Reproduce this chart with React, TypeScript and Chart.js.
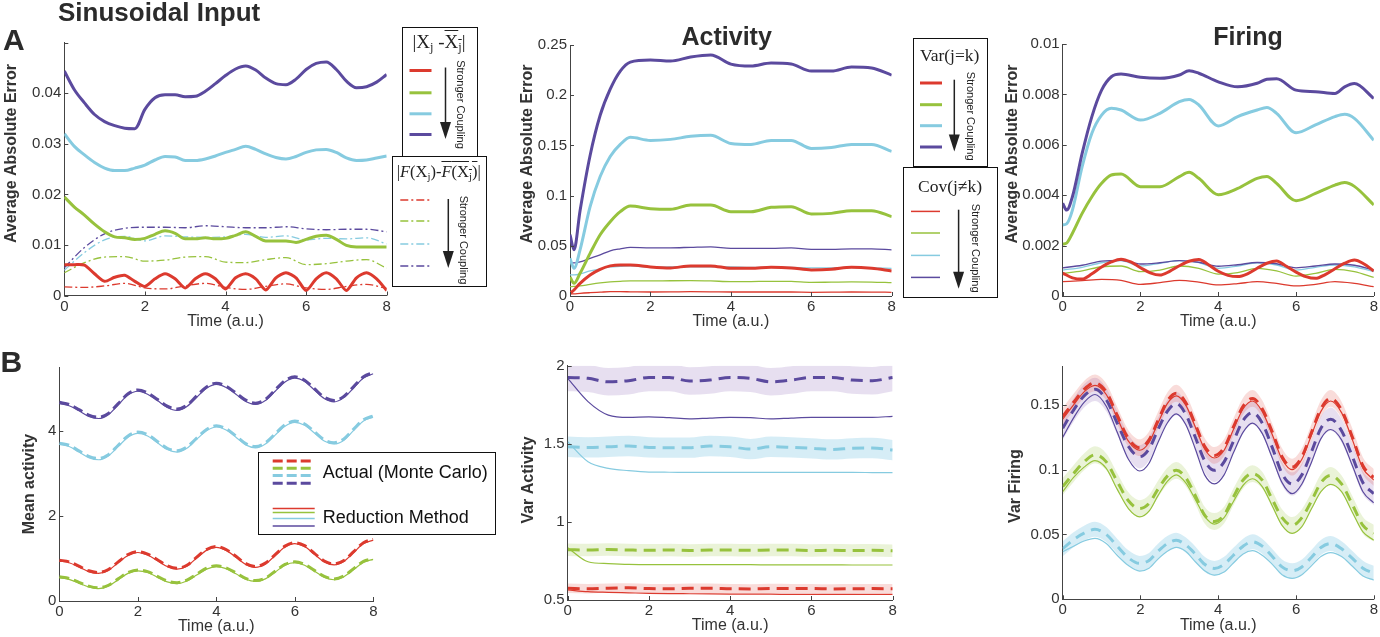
import React, { useEffect, useRef } from 'react';
import { Chart, registerables } from 'chart.js';

Chart.register(...registerables);

const SANS = '"Liberation Sans", Arial, Helvetica, sans-serif';
const SERIF = '"Liberation Serif", "Times New Roman", serif';

const RED = '#dc3a2e';
const GREEN = '#97c23d';
const CYAN = '#86cbe0';
const PURPLE = '#5b4a9e';
const INK = '#333333';

const RED_BAND = 'rgba(221,60,50,0.18)';
const GREEN_BAND = 'rgba(150,196,60,0.2)';
const CYAN_BAND = 'rgba(120,195,225,0.3)';
const PURPLE_BAND = 'rgba(120,80,170,0.18)';

// ---------- time axes ----------
const tQuarter = [0, 0.25, 0.5, 0.75, 1, 1.25, 1.5, 1.75, 2, 2.25, 2.5, 2.75, 3, 3.25, 3.5, 3.75, 4, 4.25, 4.5, 4.75, 5, 5.25, 5.5, 5.75, 6, 6.25, 6.5, 6.75, 7, 7.25, 7.5, 7.75, 8];
const tHalf = [0, 0.5, 1, 1.5, 2, 2.5, 3, 3.5, 4, 4.5, 5, 5.5, 6, 6.5, 7, 7.5, 8];
const tActivity = [0, 0.1, 0.25, 0.5, 0.75, 1, 1.25, 1.5, 2, 2.5, 3, 3.5, 4, 4.5, 5, 5.5, 6, 6.5, 7, 7.5, 8];
const tFiring = [0, 0.1, 0.25, 0.5, 0.75, 1, 1.25, 1.5, 2, 2.5, 3, 3.25, 3.5, 4, 4.5, 5, 5.25, 5.5, 6, 6.5, 7, 7.25, 7.5, 8];
const tVarFiring = [0, 0.28, 0.55, 0.83, 1.12, 1.4, 1.69, 1.98, 2.22, 2.45, 2.69, 2.92, 3.16, 3.41, 3.65, 3.9, 4.15, 4.39, 4.64, 4.88, 5.13, 5.39, 5.64, 5.9, 6.15, 6.4, 6.64, 6.89, 7.17, 7.45, 7.72, 8];

const xTickValues = [0, 2, 4, 6, 8];
const xTickLabels = ['0', '2', '4', '6', '8'];

// ---------- A1: Sinusoidal input, |Xj - mean Xj| (solid) and |F(Xj) - mean F| (dash-dot) ----------
const a1Red = [0.0061, 0.0061, 0.0060, 0.0043, 0.0028, 0.0036, 0.0040, 0.0028, 0.0018, 0.0033, 0.0043, 0.0033, 0.0015, 0.0033, 0.0043, 0.0033, 0.0013, 0.0035, 0.0043, 0.0033, 0.0011, 0.0035, 0.0045, 0.0035, 0.0010, 0.0033, 0.0045, 0.0033, 0.0010, 0.0035, 0.0045, 0.0033, 0.0010];
const a1Green = [0.0195, 0.0175, 0.0159, 0.0141, 0.0126, 0.0116, 0.0114, 0.0111, 0.0113, 0.0121, 0.0128, 0.0123, 0.0112, 0.0112, 0.0114, 0.0112, 0.0113, 0.0119, 0.0126, 0.0117, 0.0108, 0.0108, 0.0108, 0.0105, 0.0111, 0.0117, 0.0119, 0.0111, 0.0099, 0.0096, 0.0096, 0.0096, 0.0096];
const a1Cyan = [0.0320, 0.0295, 0.0278, 0.0263, 0.0252, 0.0247, 0.0247, 0.0252, 0.0258, 0.0268, 0.0275, 0.0274, 0.0267, 0.0267, 0.0270, 0.0276, 0.0283, 0.0289, 0.0295, 0.0289, 0.0280, 0.0273, 0.0270, 0.0275, 0.0283, 0.0288, 0.0289, 0.0283, 0.0272, 0.0267, 0.0268, 0.0272, 0.0276];
const a1Purple = [0.0444, 0.0407, 0.0381, 0.0358, 0.0344, 0.0336, 0.0331, 0.0330, 0.0368, 0.0391, 0.0397, 0.0397, 0.0393, 0.0394, 0.0404, 0.0419, 0.0435, 0.0448, 0.0454, 0.0446, 0.0430, 0.0419, 0.0417, 0.0428, 0.0447, 0.0459, 0.0462, 0.0447, 0.0424, 0.0411, 0.0413, 0.0422, 0.0437];
const a1RedF = [0.0017, 0.0016, 0.0019, 0.0024, 0.0015, 0.0013, 0.0019, 0.0024, 0.0016, 0.0012, 0.0018, 0.0023, 0.0015, 0.0012, 0.0018, 0.0022, 0.0014];
const a1GreenF = [0.0045, 0.0065, 0.0076, 0.0077, 0.0068, 0.0070, 0.0076, 0.0077, 0.0066, 0.0065, 0.0071, 0.0075, 0.0061, 0.0063, 0.0068, 0.0071, 0.0054];
const a1CyanF = [0.0050, 0.0085, 0.0110, 0.0117, 0.0108, 0.0118, 0.0116, 0.0115, 0.0116, 0.0121, 0.0115, 0.0118, 0.0110, 0.0113, 0.0112, 0.0114, 0.0102];
const a1PurpleF = [0.0055, 0.0095, 0.0122, 0.0133, 0.0135, 0.0135, 0.0134, 0.0138, 0.0136, 0.0134, 0.0134, 0.0136, 0.0132, 0.0130, 0.0131, 0.0131, 0.0126];
const a1YTicks = [0, 0.01, 0.02, 0.03, 0.04, 0.05];
const a1YLabels = ['0', '0.01', '0.02', '0.03', '0.04', ''];

// ---------- A2: Activity, Var (thick) and Cov (thin) ----------
const a2Red = [0.0027, 0.006, 0.0126, 0.021, 0.0266, 0.030, 0.031, 0.031, 0.029, 0.028, 0.030, 0.030, 0.0276, 0.0276, 0.0286, 0.028, 0.026, 0.0266, 0.0286, 0.0276, 0.025];
const a2Green = [0.019, 0.0126, 0.0226, 0.0425, 0.061, 0.074, 0.084, 0.0896, 0.087, 0.0863, 0.0906, 0.0906, 0.084, 0.084, 0.0883, 0.089, 0.0817, 0.0823, 0.085, 0.085, 0.079];
const a2Cyan = [0.0375, 0.0276, 0.046, 0.089, 0.119, 0.139, 0.151, 0.158, 0.155, 0.156, 0.159, 0.160, 0.152, 0.151, 0.155, 0.155, 0.147, 0.148, 0.151, 0.151, 0.144];
const a2Purple = [0.061, 0.046, 0.085, 0.140, 0.180, 0.206, 0.224, 0.233, 0.235, 0.234, 0.238, 0.240, 0.231, 0.229, 0.232, 0.231, 0.224, 0.224, 0.228, 0.227, 0.220];
const a2RedC = [0.002, 0.0022, 0.0027, 0.0033, 0.0038, 0.0043, 0.0043, 0.0042, 0.004, 0.0041, 0.0043, 0.0042, 0.004, 0.004, 0.004, 0.004, 0.0037, 0.0038, 0.004, 0.0039, 0.0037];
const a2GreenC = [0.0093, 0.0095, 0.010, 0.0116, 0.013, 0.014, 0.0146, 0.015, 0.015, 0.0152, 0.0153, 0.015, 0.0143, 0.0144, 0.0146, 0.0145, 0.0136, 0.0138, 0.014, 0.0139, 0.0133];
const a2CyanC = [0.021, 0.021, 0.022, 0.025, 0.027, 0.029, 0.0295, 0.030, 0.0286, 0.029, 0.029, 0.029, 0.029, 0.0285, 0.0286, 0.0285, 0.028, 0.028, 0.0286, 0.028, 0.0276];
const a2PurpleC = [0.034, 0.033, 0.034, 0.0375, 0.041, 0.045, 0.047, 0.0485, 0.048, 0.048, 0.0485, 0.049, 0.0475, 0.0475, 0.0475, 0.048, 0.0465, 0.0465, 0.047, 0.047, 0.046];
const a2YTicks = [0, 0.05, 0.1, 0.15, 0.2, 0.25];
const a2YLabels = ['0', '0.05', '0.1', '0.15', '0.2', '0.25'];

// ---------- A3: Firing ----------
const a3Red = [0.00091, 0.00072, 0.00067, 0.00088, 0.00115, 0.00135, 0.00146, 0.00135, 0.00112, 0.00092, 0.00083, 0.00098, 0.0012, 0.00138, 0.00145, 0.00124, 0.00098, 0.00082, 0.00077, 0.00088, 0.0011, 0.0013, 0.00139, 0.00118, 0.00095, 0.00077, 0.0007, 0.00085, 0.00108, 0.0013, 0.00143, 0.00127, 0.00099];
const a3Green = [0.00206, 0.0021, 0.00249, 0.00328, 0.00394, 0.00447, 0.0048, 0.00484, 0.00434, 0.00434, 0.00474, 0.00491, 0.00467, 0.00402, 0.00427, 0.00467, 0.00474, 0.00447, 0.00378, 0.00407, 0.0044, 0.0045, 0.00435, 0.00361];
const a3Cyan = [0.00282, 0.00286, 0.00341, 0.00513, 0.00646, 0.00718, 0.00745, 0.00738, 0.00698, 0.00725, 0.00771, 0.0078, 0.00758, 0.00675, 0.00712, 0.00738, 0.00748, 0.00725, 0.00648, 0.00679, 0.00712, 0.00721, 0.00705, 0.00618];
const a3Purple = [0.00368, 0.00341, 0.00394, 0.00566, 0.00712, 0.00817, 0.0087, 0.00881, 0.00868, 0.00864, 0.00877, 0.00894, 0.00884, 0.0085, 0.0083, 0.00844, 0.0086, 0.00862, 0.00817, 0.00811, 0.00804, 0.0083, 0.00843, 0.00784];
const a3RedC = [0.00057, 0.00061, 0.00066, 0.00062, 0.00046, 0.00053, 0.00062, 0.00055, 0.00044, 0.00049, 0.00057, 0.0005, 0.0004, 0.00046, 0.00057, 0.0005, 0.00037];
const a3GreenC = [0.0009, 0.001, 0.00116, 0.00119, 0.00097, 0.00103, 0.00119, 0.0011, 0.00087, 0.00093, 0.0011, 0.001, 0.00079, 0.0009, 0.00106, 0.00097, 0.00074];
const a3CyanC = [0.00103, 0.00114, 0.00132, 0.0014, 0.00119, 0.0013, 0.0014, 0.00132, 0.0011, 0.00119, 0.00132, 0.00123, 0.00103, 0.00114, 0.00123, 0.00116, 0.00097];
const a3PurpleC = [0.00112, 0.00122, 0.00138, 0.00141, 0.00127, 0.00132, 0.0014, 0.00134, 0.00118, 0.00124, 0.00133, 0.00128, 0.00112, 0.00119, 0.00127, 0.00122, 0.00103];
const a3YTicks = [0, 0.002, 0.004, 0.006, 0.008, 0.01];
const a3YLabels = ['0', '0.002', '0.004', '0.006', '0.008', '0.01'];

// ---------- B1: Mean activity (actual dashed, reduction solid) ----------
const b1Red = [0.96, 0.92, 0.82, 0.71, 0.67, 0.74, 0.92, 1.09, 1.16, 1.10, 0.97, 0.83, 0.77, 0.84, 1.03, 1.21, 1.28, 1.21, 1.05, 0.88, 0.81, 0.89, 1.09, 1.29, 1.37, 1.30, 1.12, 0.94, 0.87, 0.95, 1.16, 1.37, 1.45];
const b1Green = [0.57, 0.53, 0.44, 0.35, 0.31, 0.37, 0.52, 0.67, 0.73, 0.69, 0.58, 0.47, 0.43, 0.49, 0.63, 0.77, 0.83, 0.78, 0.66, 0.53, 0.48, 0.54, 0.70, 0.86, 0.92, 0.86, 0.72, 0.58, 0.52, 0.59, 0.76, 0.93, 1.00];
const b1Cyan = [3.71, 3.66, 3.53, 3.40, 3.35, 3.44, 3.66, 3.88, 3.97, 3.91, 3.75, 3.59, 3.53, 3.62, 3.83, 4.03, 4.12, 4.05, 3.88, 3.70, 3.63, 3.72, 3.93, 4.14, 4.23, 4.16, 3.98, 3.79, 3.72, 3.81, 4.04, 4.26, 4.35];
const b1Purple = [4.67, 4.62, 4.50, 4.37, 4.32, 4.41, 4.64, 4.87, 4.96, 4.89, 4.74, 4.58, 4.51, 4.60, 4.82, 5.03, 5.12, 5.05, 4.89, 4.72, 4.65, 4.74, 4.96, 5.18, 5.27, 5.19, 4.99, 4.79, 4.71, 4.81, 5.04, 5.27, 5.37];
const b1RedR = [0.94, 0.90, 0.80, 0.69, 0.65, 0.72, 0.90, 1.07, 1.14, 1.08, 0.95, 0.81, 0.75, 0.82, 1.01, 1.19, 1.26, 1.19, 1.03, 0.86, 0.79, 0.87, 1.07, 1.27, 1.35, 1.28, 1.10, 0.92, 0.85, 0.93, 1.14, 1.35, 1.43];
const b1GreenR = [0.55, 0.51, 0.42, 0.33, 0.29, 0.35, 0.50, 0.65, 0.71, 0.67, 0.56, 0.45, 0.41, 0.47, 0.61, 0.75, 0.81, 0.76, 0.64, 0.51, 0.46, 0.52, 0.68, 0.84, 0.90, 0.84, 0.70, 0.56, 0.50, 0.57, 0.74, 0.91, 0.98];
const b1CyanR = [3.68, 3.63, 3.50, 3.37, 3.32, 3.41, 3.63, 3.85, 3.94, 3.88, 3.72, 3.56, 3.50, 3.59, 3.80, 4.00, 4.09, 4.02, 3.85, 3.67, 3.60, 3.69, 3.90, 4.11, 4.20, 4.13, 3.95, 3.76, 3.69, 3.78, 4.01, 4.23, 4.32];
const b1PurpleR = [4.64, 4.59, 4.47, 4.34, 4.29, 4.38, 4.61, 4.84, 4.93, 4.86, 4.71, 4.55, 4.48, 4.57, 4.79, 5.00, 5.09, 5.02, 4.86, 4.69, 4.62, 4.71, 4.93, 5.15, 5.24, 5.16, 4.96, 4.76, 4.68, 4.78, 5.01, 5.24, 5.34];
const b1YTicks = [0, 2, 4];
const b1YLabels = ['0', '2', '4'];

// ---------- B2: Var activity ----------
const b2Red = [0.575, 0.572, 0.576, 0.578, 0.573, 0.572, 0.575, 0.575, 0.572, 0.571, 0.574, 0.573, 0.573, 0.571, 0.572, 0.573, 0.572];
const b2Green = [0.822, 0.82, 0.823, 0.82, 0.818, 0.82, 0.817, 0.82, 0.82, 0.818, 0.82, 0.82, 0.817, 0.818, 0.817, 0.818, 0.815];
const b2Cyan = [1.481, 1.477, 1.481, 1.486, 1.477, 1.475, 1.475, 1.486, 1.481, 1.466, 1.481, 1.477, 1.471, 1.464, 1.471, 1.473, 1.46];
const b2Purple = [1.925, 1.919, 1.897, 1.904, 1.925, 1.925, 1.902, 1.908, 1.925, 1.919, 1.897, 1.908, 1.925, 1.925, 1.908, 1.904, 1.925];
const b2RedR = [0.564, 0.553, 0.549, 0.546, 0.543, 0.541, 0.540, 0.539, 0.538, 0.537, 0.537, 0.536, 0.536, 0.536, 0.536, 0.536, 0.536];
const b2GreenR = [0.835, 0.745, 0.733, 0.728, 0.726, 0.726, 0.726, 0.726, 0.726, 0.726, 0.725, 0.725, 0.725, 0.725, 0.724, 0.724, 0.724];
const b2CyanR = [1.513, 1.385, 1.343, 1.328, 1.319, 1.318, 1.317, 1.317, 1.317, 1.317, 1.317, 1.317, 1.317, 1.317, 1.317, 1.316, 1.315];
const b2PurpleR = [1.919, 1.77, 1.684, 1.669, 1.673, 1.667, 1.660, 1.665, 1.669, 1.667, 1.660, 1.665, 1.669, 1.669, 1.669, 1.669, 1.676];
// half-width of the shaded spread (red, green, cyan, purple)
const b2Spread = [0.03, 0.04, 0.065, 0.088];
const b2YTicks = [0.5, 1, 1.5, 2];
const b2YLabels = ['0.5', '1', '1.5', '2'];

// ---------- B3: Var firing ----------
const b3Red = [0.141, 0.152, 0.162, 0.167, 0.160, 0.142, 0.124, 0.117, 0.123, 0.138, 0.153, 0.159, 0.152, 0.135, 0.118, 0.111, 0.117, 0.133, 0.149, 0.155, 0.147, 0.129, 0.110, 0.102, 0.110, 0.129, 0.147, 0.155, 0.146, 0.125, 0.103, 0.094];
const b3Green = [0.087, 0.097, 0.106, 0.1115, 0.106, 0.091, 0.076, 0.070, 0.074, 0.085, 0.095, 0.0995, 0.094, 0.080, 0.065, 0.060, 0.065, 0.079, 0.092, 0.097, 0.092, 0.077, 0.063, 0.057, 0.063, 0.076, 0.090, 0.0956, 0.089, 0.073, 0.057, 0.051];
const b3Cyan = [0.039, 0.046, 0.051, 0.054, 0.050, 0.041, 0.032, 0.0277, 0.030, 0.037, 0.043, 0.0456, 0.042, 0.035, 0.027, 0.0238, 0.027, 0.034, 0.041, 0.0444, 0.041, 0.033, 0.025, 0.022, 0.025, 0.0325, 0.040, 0.043, 0.039, 0.0315, 0.024, 0.020];
const b3Purple = [0.132, 0.146, 0.157, 0.162, 0.154, 0.136, 0.118, 0.110, 0.116, 0.131, 0.145, 0.151, 0.143, 0.125, 0.107, 0.0995, 0.106, 0.122, 0.138, 0.144, 0.136, 0.117, 0.097, 0.089, 0.096, 0.114, 0.132, 0.139, 0.130, 0.110, 0.090, 0.0815];
const b3RedR = [0.139, 0.150, 0.160, 0.165, 0.158, 0.140, 0.122, 0.115, 0.121, 0.136, 0.151, 0.157, 0.150, 0.133, 0.116, 0.109, 0.115, 0.131, 0.147, 0.153, 0.145, 0.127, 0.108, 0.100, 0.108, 0.127, 0.145, 0.153, 0.144, 0.123, 0.101, 0.092];
const b3GreenR = [0.083, 0.094, 0.102, 0.107, 0.101, 0.085, 0.070, 0.0636, 0.068, 0.080, 0.091, 0.096, 0.090, 0.077, 0.064, 0.058, 0.063, 0.0755, 0.088, 0.093, 0.087, 0.072, 0.057, 0.0508, 0.056, 0.070, 0.083, 0.0887, 0.083, 0.067, 0.052, 0.0456];
const b3CyanR = [0.0367, 0.041, 0.045, 0.047, 0.043, 0.034, 0.026, 0.0218, 0.024, 0.031, 0.037, 0.040, 0.037, 0.029, 0.022, 0.0187, 0.021, 0.028, 0.035, 0.0375, 0.034, 0.027, 0.019, 0.0162, 0.019, 0.026, 0.033, 0.036, 0.033, 0.0255, 0.018, 0.0149];
const b3PurpleR = [0.125, 0.140, 0.152, 0.158, 0.149, 0.129, 0.108, 0.099, 0.105, 0.121, 0.136, 0.143, 0.135, 0.116, 0.096, 0.089, 0.096, 0.113, 0.129, 0.136, 0.128, 0.109, 0.090, 0.0815, 0.089, 0.106, 0.124, 0.131, 0.123, 0.103, 0.083, 0.0744];
const b3Spread = [0.0065, 0.0065, 0.0058, 0.009];
const b3YTicks = [0, 0.05, 0.1, 0.15];
const b3YLabels = ['0', '0.05', '0.1', '0.15'];

// ---------- helpers ----------
const pts = (t: number[], v: number[]) => t.map((x, i) => ({ x, y: v[i] }));
const shift = (v: number[], d: number) => v.map((y) => y + d);

// tension === undefined -> monotone cubic; otherwise bezier spline with given tension
function line(t: number[], v: number[], color: string, width: number, dash: number[] = [], order = 1, tension?: number) {
  return {
    data: pts(t, v),
    borderColor: color,
    backgroundColor: color,
    borderWidth: width,
    borderDash: dash,
    pointRadius: 0,
    fill: false,
    cubicInterpolationMode: tension === undefined ? 'monotone' : 'default',
    tension: tension === undefined ? 0 : tension,
    order,
  };
}

function band(t: number[], mid: number[], half: number, color: string) {
  const common = {
    borderColor: 'rgba(0,0,0,0)',
    borderWidth: 0,
    pointRadius: 0,
    cubicInterpolationMode: 'monotone',
    order: 5,
  };
  return [
    { ...common, data: pts(t, shift(mid, -half)), backgroundColor: 'rgba(0,0,0,0)', fill: false },
    { ...common, data: pts(t, shift(mid, half)), backgroundColor: color, fill: '-1' },
  ];
}

type TextItem = { text: string; x: number; y: number; font: string; color: string; rot?: number; align?: CanvasTextAlign; baseline?: CanvasTextBaseline };

function textPlugin(items: TextItem[]) {
  return {
    id: 'panelText',
    afterDraw(chart: any) {
      const ctx = chart.ctx as CanvasRenderingContext2D;
      items.forEach((it) => {
        ctx.save();
        ctx.translate(it.x, it.y);
        if (it.rot) ctx.rotate(it.rot);
        ctx.font = it.font;
        ctx.fillStyle = it.color;
        ctx.textAlign = it.align || 'center';
        ctx.textBaseline = it.baseline || 'middle';
        ctx.fillText(it.text, 0, 0);
        ctx.restore();
      });
    },
  };
}

const innerTicks = {
  id: 'innerTicks',
  afterDraw(chart: any) {
    const { ctx, chartArea: a, scales } = chart;
    const x = scales.x;
    const y = scales.y;
    ctx.save();
    ctx.strokeStyle = '#444';
    ctx.lineWidth = 1;
    ctx.beginPath();
    x.ticks.forEach((t: any) => {
      const px = Math.round(x.getPixelForValue(t.value)) + 0.5;
      ctx.moveTo(px, a.bottom);
      ctx.lineTo(px, a.bottom - 4);
    });
    y.ticks.forEach((t: any) => {
      const py = Math.round(y.getPixelForValue(t.value)) + 0.5;
      ctx.moveTo(a.left, py);
      ctx.lineTo(a.left + 4, py);
    });
    ctx.stroke();
    ctx.restore();
  },
};

interface PanelSpec {
  box: { x: number; y: number; w: number; h: number };
  area: { l: number; t: number; r: number; b: number };
  yMin: number;
  yMax: number;
  yTicks: number[];
  yLabels: string[];
  yTitle: string;
  yTitlePos: [number, number];
  title?: string;
  titlePos?: [number, number];
  datasets: () => any[];
}

function ChartPanel({ spec }: { spec: PanelSpec }) {
  const ref = useRef<HTMLCanvasElement | null>(null);
  useEffect(() => {
    const { box, area } = spec;
    const yW = area.l - box.x;
    const xH = box.y + box.h - area.b;
    const padTop = area.t - box.y;
    const padRight = box.x + box.w - area.r;
    const texts: TextItem[] = [
      { text: spec.yTitle, x: spec.yTitlePos[0] - box.x, y: spec.yTitlePos[1] - box.y, font: `bold 16px ${SANS}`, color: INK, rot: -Math.PI / 2 },
    ];
    if (spec.title && spec.titlePos) {
      texts.push({ text: spec.title, x: spec.titlePos[0] - box.x, y: spec.titlePos[1] - box.y, font: `bold 25px ${SANS}`, color: '#2b2b2b', baseline: 'alphabetic' });
    }
    const tickFont = { family: SANS, size: 15 };
    const chart = new Chart(ref.current as HTMLCanvasElement, {
      type: 'line',
      data: { datasets: spec.datasets() },
      options: {
        animation: false,
        responsive: false,
        events: [],
        layout: { padding: { top: padTop, right: padRight, left: 0, bottom: 0 } },
        plugins: { legend: { display: false }, tooltip: { enabled: false } },
        elements: { point: { radius: 0 } },
        scales: {
          x: {
            type: 'linear',
            min: 0,
            max: 8,
            afterFit: (s: any) => { s.height = xH; },
            afterBuildTicks: (s: any) => { s.ticks = xTickValues.map((v) => ({ value: v })); },
            ticks: { callback: (_v: any, i: number) => xTickLabels[i], font: tickFont, color: INK, padding: 2, maxRotation: 0, autoSkip: false },
            grid: { display: false, drawTicks: false },
            border: { display: true, color: '#444', width: 1 },
            title: { display: true, text: 'Time (a.u.)', font: { family: SANS, size: 16 }, color: INK, padding: 0 },
          },
          y: {
            type: 'linear',
            min: spec.yMin,
            max: spec.yMax,
            afterFit: (s: any) => { s.width = yW; },
            afterBuildTicks: (s: any) => { s.ticks = spec.yTicks.map((v) => ({ value: v })); },
            ticks: { callback: (_v: any, i: number) => spec.yLabels[i], font: tickFont, color: INK, padding: 3, autoSkip: false },
            grid: { display: false, drawTicks: false },
            border: { display: true, color: '#444', width: 1 },
          },
        },
      } as any,
      plugins: [textPlugin(texts), innerTicks],
    } as any);
    return () => chart.destroy();
  }, [spec]);
  return (
    <canvas
      ref={ref}
      width={spec.box.w}
      height={spec.box.h}
      style={{ position: 'absolute', left: spec.box.x, top: spec.box.y, width: spec.box.w, height: spec.box.h }}
    />
  );
}

const DD = [8, 3, 2, 3];

const panels: PanelSpec[] = [
  {
    box: { x: 0, y: 30, w: 396, h: 301 },
    area: { l: 64.3, t: 42.7, r: 386.7, b: 295.5 },
    yMin: 0, yMax: 0.05, yTicks: a1YTicks, yLabels: a1YLabels,
    yTitle: 'Average Absolute Error', yTitlePos: [11.5, 153.5],
    datasets: () => [
      line(tQuarter, a1Purple, PURPLE, 3, [], 1),
      line(tQuarter, a1Cyan, CYAN, 3, [], 1),
      line(tQuarter, a1Green, GREEN, 3, [], 1),
      line(tQuarter, a1Red, RED, 3, [], 1, 0.25),
      line(tHalf, a1PurpleF, PURPLE, 1.3, DD, 2),
      line(tHalf, a1CyanF, CYAN, 1.3, DD, 2),
      line(tHalf, a1GreenF, GREEN, 1.3, DD, 2),
      line(tHalf, a1RedF, RED, 1.3, DD, 2),
    ],
  },
  {
    box: { x: 510, y: 20, w: 391, h: 311 },
    area: { l: 570, t: 45, r: 891.7, b: 296 },
    yMin: 0, yMax: 0.25, yTicks: a2YTicks, yLabels: a2YLabels,
    yTitle: 'Average Absolute Error', yTitlePos: [527.5, 154],
    title: 'Activity', titlePos: [726.7, 44.5],
    datasets: () => [
      line(tActivity, a2Purple, PURPLE, 3, [], 1),
      line(tActivity, a2Cyan, CYAN, 3, [], 1),
      line(tActivity, a2Green, GREEN, 3, [], 1),
      line(tActivity, a2Red, RED, 3, [], 1),
      line(tActivity, a2PurpleC, PURPLE, 1.3, [], 2),
      line(tActivity, a2CyanC, CYAN, 1.3, [], 2),
      line(tActivity, a2GreenC, GREEN, 1.3, [], 2),
      line(tActivity, a2RedC, RED, 1.3, [], 2),
    ],
  },
  {
    box: { x: 1000, y: 20, w: 380, h: 311 },
    area: { l: 1062.7, t: 44, r: 1375.7, b: 296 },
    yMin: 0, yMax: 0.01, yTicks: a3YTicks, yLabels: a3YLabels,
    yTitle: 'Average Absolute Error', yTitlePos: [1012.5, 154],
    title: 'Firing', titlePos: [1248, 44.5],
    datasets: () => [
      line(tFiring, a3Purple, PURPLE, 3, [], 1),
      line(tFiring, a3Cyan, CYAN, 3, [], 1),
      line(tFiring, a3Green, GREEN, 3, [], 1),
      line(tQuarter, a3Red, RED, 3, [], 1),
      line(tHalf, a3PurpleC, PURPLE, 1.3, [], 2),
      line(tHalf, a3CyanC, CYAN, 1.3, [], 2),
      line(tHalf, a3GreenC, GREEN, 1.3, [], 2),
      line(tHalf, a3RedC, RED, 1.3, [], 2),
    ],
  },
  {
    box: { x: 10, y: 352, w: 373, h: 284 },
    area: { l: 59.3, t: 367, r: 373.3, b: 601 },
    yMin: 0, yMax: 5.5, yTicks: b1YTicks, yLabels: b1YLabels,
    yTitle: 'Mean activity', yTitlePos: [29.7, 484],
    datasets: () => [
      line(tQuarter, b1Red, RED, 3, [10, 5], 0),
      line(tQuarter, b1Green, GREEN, 3, [10, 5], 0),
      line(tQuarter, b1Cyan, CYAN, 3, [10, 5], 0),
      line(tQuarter, b1Purple, PURPLE, 3, [10, 5], 0),
      line(tQuarter, b1RedR, RED, 1.2, [], 1),
      line(tQuarter, b1GreenR, GREEN, 1.2, [], 1),
      line(tQuarter, b1CyanR, CYAN, 1.2, [], 1),
      line(tQuarter, b1PurpleR, PURPLE, 1.2, [], 1),
    ],
  },
  {
    box: { x: 510, y: 352, w: 392, h: 283 },
    area: { l: 567.7, t: 365.7, r: 892.7, b: 600 },
    yMin: 0.5, yMax: 2, yTicks: b2YTicks, yLabels: b2YLabels,
    yTitle: 'Var Activity', yTitlePos: [529, 480],
    datasets: () => [
      ...band(tHalf, b2Red, b2Spread[0], RED_BAND),
      ...band(tHalf, b2Green, b2Spread[1], GREEN_BAND),
      ...band(tHalf, b2Cyan, b2Spread[2], CYAN_BAND),
      ...band(tHalf, b2Purple, b2Spread[3], PURPLE_BAND),
      line(tHalf, b2RedR, RED, 1.2, [], 1),
      line(tHalf, b2GreenR, GREEN, 1.2, [], 1),
      line(tHalf, b2CyanR, CYAN, 1.2, [], 1),
      line(tHalf, b2PurpleR, PURPLE, 1.2, [], 1),
      line(tHalf, b2Red, RED, 3, [12, 7], 0),
      line(tHalf, b2Green, GREEN, 3, [12, 7], 0),
      line(tHalf, b2Cyan, CYAN, 3, [12, 7], 0),
      line(tHalf, b2Purple, PURPLE, 3, [12, 7], 0),
    ],
  },
  {
    box: { x: 1000, y: 352, w: 380, h: 283 },
    area: { l: 1062.7, t: 366, r: 1375, b: 599.3 },
    yMin: 0, yMax: 0.18, yTicks: b3YTicks, yLabels: b3YLabels,
    yTitle: 'Var Firing', yTitlePos: [1015.7, 486],
    datasets: () => [
      ...band(tVarFiring, b3Red, b3Spread[0], RED_BAND),
      ...band(tVarFiring, b3Green, b3Spread[1], GREEN_BAND),
      ...band(tVarFiring, b3Cyan, b3Spread[2], CYAN_BAND),
      ...band(tVarFiring, b3Purple, b3Spread[3], PURPLE_BAND),
      line(tVarFiring, b3RedR, RED, 1.2, [], 1),
      line(tVarFiring, b3GreenR, GREEN, 1.2, [], 1),
      line(tVarFiring, b3CyanR, CYAN, 1.2, [], 1),
      line(tVarFiring, b3PurpleR, PURPLE, 1.2, [], 1),
      line(tVarFiring, b3Red, RED, 3, [10, 7], 0),
      line(tVarFiring, b3Green, GREEN, 3, [10, 7], 0),
      line(tVarFiring, b3Cyan, CYAN, 3, [10, 7], 0),
      line(tVarFiring, b3Purple, PURPLE, 3, [10, 7], 0),
    ],
  },
];

// ---------- legends ----------
const legendColors = [RED, GREEN, CYAN, PURPLE];
const subStyle: React.CSSProperties = { fontSize: '0.65em', verticalAlign: '-0.25em', lineHeight: 0 };

function Arrow({ x, y1, y2 }: { x: number; y1: number; y2: number }) {
  return (
    <g>
      <line x1={x} y1={y1} x2={x} y2={y2 - 14} stroke="#222" strokeWidth={1.5} />
      <polygon points={`${x - 5.5},${y2 - 17} ${x + 5.5},${y2 - 17} ${x},${y2}`} fill="#222" />
    </g>
  );
}

function Coupling({ cx, cy }: { cx: number; cy: number }) {
  return (
    <text x={cx} y={cy} transform={`rotate(90 ${cx} ${cy})`} textAnchor="middle" dominantBaseline="central" fontSize={11} fontFamily={SANS} fill="#222">
      Stronger Coupling
    </text>
  );
}

interface LegendBoxProps {
  x: number; y: number; w: number; h: number;
  title: React.ReactNode; titleTop: number; titleSize: number;
  lineX: [number, number]; lineYs: number[]; lineWidth: number; dash?: string;
  arrow: { x: number; y1: number; y2: number };
  text: { cx: number; cy: number };
}

function LegendBox(p: LegendBoxProps) {
  return (
    <div style={{ position: 'absolute', left: p.x, top: p.y, width: p.w, height: p.h, border: '1.5px solid #111', background: '#fff', boxSizing: 'border-box' }}>
      <div style={{ position: 'absolute', left: -1.5, width: p.w, top: p.titleTop, textAlign: 'center', fontFamily: SERIF, fontSize: p.titleSize, color: '#222', whiteSpace: 'nowrap', lineHeight: 1.1 }}>
        {p.title}
      </div>
      <svg width={p.w} height={p.h} style={{ position: 'absolute', left: -1.5, top: -1.5, overflow: 'visible' }}>
        {p.lineYs.map((ly, i) => (
          <line key={i} x1={p.lineX[0]} x2={p.lineX[1]} y1={ly} y2={ly} stroke={legendColors[i]} strokeWidth={p.lineWidth} strokeDasharray={p.dash} />
        ))}
        <Arrow x={p.arrow.x} y1={p.arrow.y1} y2={p.arrow.y2} />
        <Coupling cx={p.text.cx} cy={p.text.cy} />
      </svg>
    </div>
  );
}

function Legends() {
  return (
    <>
      <LegendBox
        x={401.5} y={26.5} w={76} h={130}
        title={<span>|X<sub style={subStyle}>j</sub> -<span style={{ textDecoration: 'overline' }}>X<sub style={subStyle}>j</sub></span>|</span>}
        titleTop={4} titleSize={19}
        lineX={[8.5, 30.5]} lineYs={[44.5, 66.8, 87.8, 108.5]} lineWidth={3}
        arrow={{ x: 44.5, y1: 41.5, y2: 113 }} text={{ cx: 60, cy: 78.5 }}
      />
      <LegendBox
        x={391.7} y={156} w={95} h={131.3}
        title={<span>|<i>F</i>(X<sub style={subStyle}>j</sub>)-<span style={{ textDecoration: 'overline' }}><i>F</i>(X<sub style={subStyle}>j</sub>)</span>|</span>}
        titleTop={6} titleSize={16.5}
        lineX={[9.3, 40.3]} lineYs={[44, 65, 88, 110]} lineWidth={1.5} dash="8 3 2 3"
        arrow={{ x: 57.3, y1: 43, y2: 112 }} text={{ cx: 73.3, cy: 84 }}
      />
      <LegendBox
        x={912.7} y={38.3} w={75} h={129}
        title={<span>Var(j=k)</span>}
        titleTop={7} titleSize={17.5}
        lineX={[8, 30]} lineYs={[45, 66.7, 87.7, 109]} lineWidth={3}
        arrow={{ x: 42.3, y1: 41.7, y2: 113.4 }} text={{ cx: 59, cy: 78.2 }}
      />
      <LegendBox
        x={902.7} y={167.3} w={95.6} h={131}
        title={<span>Cov(j≠k)</span>}
        titleTop={9} titleSize={17.5}
        lineX={[9, 38]} lineYs={[44.4, 66, 88.4, 110.4]} lineWidth={1.5}
        arrow={{ x: 56.6, y1: 42.7, y2: 121.7 }} text={{ cx: 74, cy: 81.2 }}
      />
      <div style={{ position: 'absolute', left: 258.3, top: 451.7, width: 237.7, height: 83.3, border: '1.5px solid #111', background: '#fff', boxSizing: 'border-box' }}>
        <svg width={237.7} height={83.3} style={{ position: 'absolute', left: -1.5, top: -1.5, overflow: 'visible' }}>
          {[10, 17.3, 24.6, 32.3].map((ly, i) => (
            <line key={'d' + i} x1={14.7} x2={52.7} y1={ly} y2={ly} stroke={legendColors[i]} strokeWidth={3} strokeDasharray="10 4" />
          ))}
          {[57.6, 61.6, 67.6, 75].map((ly, i) => (
            <line key={'s' + i} x1={14.7} x2={56.7} y1={ly} y2={ly} stroke={legendColors[i]} strokeWidth={1.5} />
          ))}
          <text x={64.7} y={21.3} dominantBaseline="central" fontSize={18} fontFamily={SANS} fill="#111">Actual (Monte Carlo)</text>
          <text x={64.7} y={66.3} dominantBaseline="central" fontSize={18} fontFamily={SANS} fill="#111">Reduction Method</text>
        </svg>
      </div>
    </>
  );
}

export default function App() {
  return (
    <div style={{ position: 'absolute', left: 0, top: 0, width: 1380, height: 637, overflow: 'hidden', background: '#fff' }}>
      {panels.map((p, i) => (
        <ChartPanel key={i} spec={p} />
      ))}
      <svg width={1380} height={637} style={{ position: 'absolute', left: 0, top: 0, pointerEvents: 'none' }}>
        <text x={58} y={21} fontSize={26} fontWeight="bold" fontFamily={SANS} fill="#2b2b2b">Sinusoidal Input</text>
        <text x={3} y={50} fontSize={30} fontWeight="bold" fontFamily={SANS} fill="#2b2b2b">A</text>
        <text x={0.5} y={372} fontSize={30} fontWeight="bold" fontFamily={SANS} fill="#2b2b2b">B</text>
      </svg>
      <Legends />
    </div>
  );
}
